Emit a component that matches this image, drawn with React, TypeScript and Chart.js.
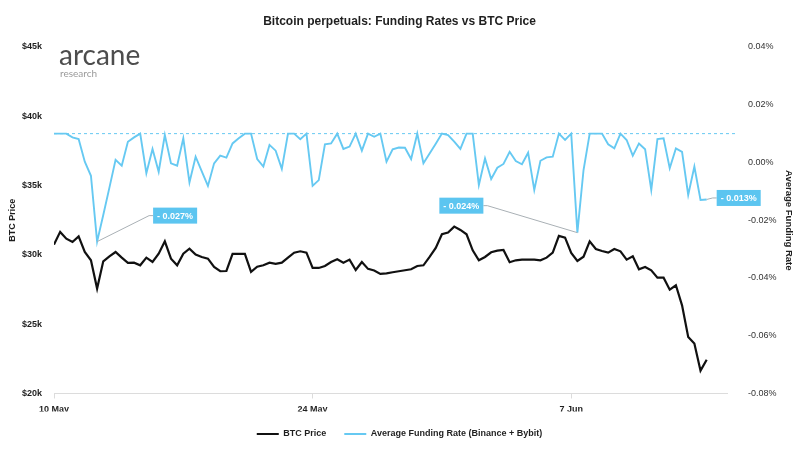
import React, { useEffect, useRef } from "react";
import { Chart, registerables } from "chart.js";

Chart.register(...registerables);

// BTC price (USD) at 8-hour intervals starting 10 May
const btcPrice = [
  30740, 31660, 31170, 30930, 31340, 30210, 29610, 27570, 29540, 29900,
  30210, 29800, 29420, 29440, 29250, 29800, 29490, 30090, 30980, 29730,
  29250, 30090, 30450, 30020, 29850, 29730, 29130, 28820, 28840, 30070,
  30070, 30070, 28770, 29150, 29250, 29440, 29350, 29440, 29800, 30160,
  30260, 30160, 29060, 29060, 29200, 29490, 29680, 29440, 29660, 28910,
  29490, 28990, 28870, 28630, 28670, 28750, 28820, 28890, 28960, 29200,
  29250, 29850, 30500, 31490, 31610, 32040, 31800, 31490, 30330, 29610,
  29850, 30190, 30310, 30360, 29470, 29610, 29660, 29660, 29660, 29610,
  29800, 30160, 31370, 31250, 30140, 29560, 29870, 30980, 30430, 30280,
  30160, 30430, 30260, 29660, 29900, 28960, 29130, 28890, 28360, 28360,
  27490, 27810, 26360, 24080, 23600, 21650, 22440,
];

// Average funding rate (Binance + Bybit), in percent, same 8-hour periods
const fundingRate = [
  0.0100, 0.0100, 0.0100, 0.0087, 0.0081, 0.0003, -0.0046, -0.0274, -0.0182, -0.0087,
  0.0009, -0.0011, 0.0072, 0.0087, 0.0100, -0.0037, 0.0047, -0.0032, 0.0095, -0.0003,
  -0.0011, 0.0084, -0.0069, 0.0020, -0.0031, -0.0081, -0.0003, 0.0024, 0.0017, 0.0066,
  0.0084, 0.0100, 0.0100, 0.0012, -0.0014, 0.0061, 0.0041, -0.0022, 0.0100, 0.0100,
  0.0081, 0.0100, -0.0081, -0.0061, 0.0063, 0.0066, 0.0100, 0.0047, 0.0055, 0.0100,
  0.0041, 0.0100, 0.0089, 0.0100, 0.0003, 0.0046, 0.0052, 0.0051, 0.0012, 0.0100,
  -0.0003, 0.0031, 0.0065, 0.0100, 0.0095, 0.0072, 0.0047, 0.0100, 0.0100, -0.0078,
  0.0014, -0.0057, -0.0018, -0.0005, 0.0037, 0.0005, -0.0006, 0.0034, -0.0095, 0.0006,
  0.0018, 0.0020, 0.0100, 0.0078, 0.0100, -0.0243, -0.0026, 0.0100, 0.0100, 0.0100,
  0.0063, 0.0049, 0.0100, 0.0078, 0.0024, 0.0066, 0.0046, -0.0095, 0.0081, 0.0084,
  -0.0020, 0.0049, 0.0037, -0.0112, -0.0014, -0.0130, -0.0128,
];

const tickIndex = [0, 42, 84];
const tickLabels = ["10 May", "24 May", "7 Jun"];
const calloutIndex = [7, 85, 106];
const baseRate = 0.01;

const TITLE = "Bitcoin perpetuals: Funding Rates vs BTC Price";
const FONT = '"Liberation Sans", Arial, Helvetica, sans-serif';
const BLUE = "#66c9f2";
const BOX = "#5cc5f0";
const INK = "#1f1f1f";

export default function App() {
  const ref = useRef<HTMLCanvasElement>(null);

  useEffect(() => {
    const canvas = ref.current;
    if (!canvas) return;
    Chart.defaults.font.family = FONT;

    const callouts = [
      { i: calloutIndex[0], dx: 56, dy: -26, side: "right" },
      { i: calloutIndex[1], dx: -94, dy: -27, side: "left" },
      { i: calloutIndex[2], dx: 10, dy: -1.5, side: "right" },
    ];

    const overlay = {
      id: "overlay",
      beforeDatasetsDraw(chart: any) {
        const { ctx, chartArea, scales } = chart;
        const y = scales.yR.getPixelForValue(baseRate);
        ctx.save();
        ctx.strokeStyle = BLUE;
        ctx.lineWidth = 1;
        ctx.setLineDash([3, 3]);
        ctx.beginPath();
        ctx.moveTo(chartArea.left, y);
        ctx.lineTo(chartArea.right + 10, y);
        ctx.stroke();
        ctx.restore();
      },
      afterDatasetsDraw(chart: any) {
        const { ctx, scales } = chart;
        ctx.save();
        ctx.font = `bold 9px ${FONT}`;
        callouts.forEach((c) => {
          const v = fundingRate[c.i];
          const ax = scales.x.getPixelForValue(c.i);
          const ay = scales.yR.getPixelForValue(v);
          const text = "- " + Math.abs(v).toFixed(3) + "%";
          const w = ctx.measureText(text).width + 8;
          const h = 16;
          const cy = ay + c.dy;
          let left: number;
          let join: number;
          let edge: number;
          if (c.side === "right") {
            left = ax + c.dx;
            edge = left;
            join = left - 4;
          } else {
            left = ax + c.dx - w;
            edge = ax + c.dx;
            join = edge + 4;
          }
          ctx.strokeStyle = "#a9b0b5";
          ctx.lineWidth = 1;
          ctx.beginPath();
          ctx.moveTo(ax, ay);
          ctx.lineTo(join, cy);
          ctx.lineTo(edge, cy);
          ctx.stroke();
          ctx.fillStyle = BOX;
          ctx.fillRect(left, cy - h / 2, w, h);
          ctx.fillStyle = "#ffffff";
          ctx.textAlign = "center";
          ctx.textBaseline = "middle";
          ctx.fillText(text, left + w / 2, cy + 0.5);
        });
        ctx.restore();
      },
      afterDraw(chart: any) {
        const { ctx } = chart;
        ctx.save();
        ctx.fillStyle = INK;
        ctx.font = `bold 12px ${FONT}`;
        ctx.textAlign = "center";
        ctx.textBaseline = "middle";
        ctx.fillText(TITLE, 399.5, 22);
        ctx.textAlign = "left";
        ctx.textBaseline = "alphabetic";
        ctx.fillStyle = "#4d4d4d";
        ctx.font = `400 28px Lato, "Open Sans", sans-serif`;
        ctx.fillText("arcane", 59, 65);
        ctx.fillStyle = "#9a9a9a";
        ctx.font = `400 10px Lato, "Open Sans", sans-serif`;
        ctx.fillText("research", 60, 77);
        ctx.restore();
      },
    };

    const chart = new Chart(canvas, {
      type: "line",
      data: {
        datasets: [
          {
            label: "BTC Price",
            data: btcPrice.map((v, i) => ({ x: i, y: v })),
            yAxisID: "yL",
            borderColor: "#111111",
            backgroundColor: "#111111",
            borderWidth: 2.2,
            pointRadius: 0,
            tension: 0,
          },
          {
            label: "Average Funding Rate (Binance + Bybit)",
            data: fundingRate.map((v, i) => ({ x: i, y: v })),
            yAxisID: "yR",
            borderColor: BLUE,
            backgroundColor: BLUE,
            borderWidth: 1.9,
            pointRadius: 0,
            tension: 0,
          },
        ],
      },
      options: {
        animation: false,
        responsive: false,
        devicePixelRatio: 1,
        layout: { padding: { top: 47, bottom: 1.5, left: 0, right: 0 } },
        plugins: {
          title: { display: false },
          tooltip: { enabled: false },
          legend: {
            display: true,
            position: "bottom",
            labels: {
              usePointStyle: true,
              pointStyle: "line",
              pointStyleWidth: 22,
              padding: 18,
              color: INK,
              font: { size: 9, weight: "bold", family: FONT },
            },
          },
        },
        scales: {
          x: {
            type: "linear",
            min: 0,
            max: 109.3,
            afterBuildTicks: (s: any) => {
              s.ticks = tickIndex.map((v) => ({ value: v }));
            },
            afterFit: (s: any) => {
              s.height = 18;
            },
            ticks: {
              autoSkip: false,
              maxRotation: 0,
              padding: 6,
              color: INK,
              font: { size: 9, weight: "bold", family: FONT },
              callback: (v: any) => {
                const k = tickIndex.indexOf(Number(v));
                return k >= 0 ? tickLabels[k] : "";
              },
            },
            grid: {
              drawOnChartArea: false,
              drawTicks: true,
              tickLength: 5,
              color: "#dcdcdc",
            },
            border: { display: true, color: "#dcdcdc" },
          },
          yL: {
            position: "left",
            min: 20000,
            max: 45000,
            afterFit: (s: any) => {
              s.width = 54;
            },
            ticks: {
              stepSize: 5000,
              padding: 12,
              color: INK,
              font: { size: 9, weight: "bold", family: FONT },
              callback: (v: any) => "$" + Number(v) / 1000 + "k",
            },
            grid: { display: false, drawTicks: false },
            border: { display: false },
            title: {
              display: true,
              text: "BTC Price",
              color: INK,
              font: { size: 9, weight: "bold", family: FONT },
              padding: { top: 7, bottom: 0 },
            },
          },
          yR: {
            position: "right",
            min: -0.08,
            max: 0.04,
            afterFit: (s: any) => {
              s.width = 72;
            },
            ticks: {
              stepSize: 0.02,
              padding: 21,
              color: "#333333",
              font: { size: 9, family: FONT },
              callback: (v: any) => {
                const n = Math.abs(Number(v)) < 1e-9 ? 0 : Number(v);
                return n.toFixed(2) + "%";
              },
            },
            grid: { display: false, drawTicks: false },
            border: { display: false },
            title: {
              display: true,
              text: "Average Funding Rate",
              color: INK,
              font: { size: 9.5, weight: "bold", family: FONT },
              padding: { top: 4.3, bottom: 0 },
            },
          },
        },
      },
      plugins: [overlay],
    } as any);

    return () => chart.destroy();
  }, []);

  return (
    <div
      style={{
        position: "absolute",
        left: 0,
        top: 0,
        width: 799,
        height: 450,
        background: "#ffffff",
      }}
    >
      <canvas
        ref={ref}
        width={799}
        height={450}
        style={{ display: "block", width: 799, height: 450 }}
      />
    </div>
  );
}
